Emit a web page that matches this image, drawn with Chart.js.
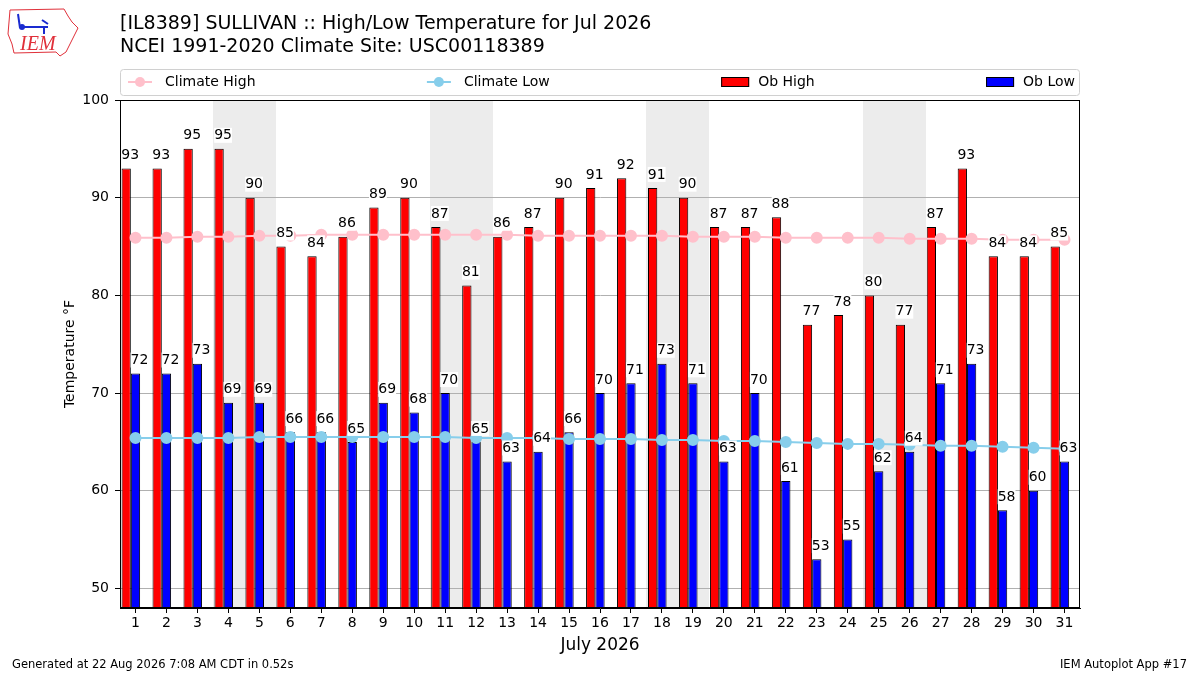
<!DOCTYPE html>
<html>
<head>
<meta charset="utf-8">
<title>[IL8389] SULLIVAN High/Low Temperature</title>
<script src="https://cdn.jsdelivr.net/npm/chart.js@4.4.1/dist/chart.umd.min.js"></script>
<style>
  html, body { margin: 0; padding: 0; background: #fff; }
  #wrap { width: 1200px; height: 675px; }
</style>
</head>
<body>
<div id="wrap"><canvas id="c" width="1200" height="675"></canvas></div>
<script>
// donnees
const dayLabels = ['1','2','3','4','5','6','7','8','9','10','11','12','13','14','15','16',
  '17','18','19','20','21','22','23','24','25','26','27','28','29','30','31'];
const obHigh = [93,93,95,95,90,85,84,86,89,90,87,81,86,87,90,91,92,91,90,87,87,88,77,78,80,77,87,93,84,84,85];
const obLow = [72,72,73,69,69,66,66,65,69,68,70,65,63,64,66,70,71,73,71,63,70,61,53,55,62,64,71,73,58,60,63];
const climateHigh = [85.9,85.9,86.0,86.0,86.1,86.1,86.2,86.2,86.2,86.2,86.2,86.2,86.2,86.1,86.1,86.1,
  86.1,86.1,86.0,86.0,86.0,85.9,85.9,85.9,85.9,85.8,85.8,85.8,85.7,85.7,85.7];
const climateLow = [65.4,65.4,65.4,65.4,65.5,65.5,65.5,65.5,65.5,65.5,65.5,65.4,65.4,65.4,65.3,65.3,
  65.3,65.2,65.2,65.1,65.1,65.0,64.9,64.8,64.8,64.7,64.6,64.6,64.5,64.4,64.3];
const weekendDays = ['4','5','11','12','18','19','25','26'];
const yTicks = [50,60,70,80,90,100];

const FONT = "'DejaVu Sans', sans-serif";

// fond + bandes grises des week-ends (avant la grille)
const weekendShade = {
  id: 'weekendShade',
  beforeDraw(chart) {
    const { ctx, chartArea: a, scales: { x } } = chart;
    const step = x.getPixelForValue(1) - x.getPixelForValue(0);
    ctx.save();
    ctx.fillStyle = '#ffffff';
    ctx.fillRect(0, 0, chart.width, chart.height);
    ctx.fillStyle = '#ececec';
    weekendDays.forEach(d => {
      const cx = x.getPixelForValue(dayLabels.indexOf(d));
      const x0 = Math.round(cx - step / 2), x1 = Math.round(cx + step / 2);
      ctx.fillRect(x0, a.top, x1 - x0 + 1, a.bottom - a.top);
    });
    ctx.restore();
  }
};

// valeurs au-dessus des barres
const barLabels = {
  id: 'barLabels',
  afterDatasetsDraw(chart) {
    const ctx = chart.ctx;
    ctx.save();
    ctx.font = '14px ' + FONT;
    ctx.textAlign = 'center';
    ctx.textBaseline = 'middle';
    [0, 1].forEach(di => {
      const vals = chart.data.datasets[di].data;
      chart.getDatasetMeta(di).data.forEach((bar, i) => {
        const txt = String(vals[i]);
        const w = ctx.measureText(txt).width;
        const tx = bar.x + 4, ty = bar.y - 13;
        ctx.fillStyle = '#fff';
        ctx.fillRect(tx - w / 2, ty - 8, w, 15);
        ctx.fillStyle = '#000';
        ctx.fillText(txt, tx, ty);
      });
    });
    ctx.restore();
  }
};

// titre, legende, cadre, pied de page, logo
const decorations = {
  id: 'decorations',
  afterDraw(chart) {
    const { ctx, chartArea: a } = chart;
    ctx.save();

    // cadre
    ctx.strokeStyle = '#000';
    ctx.lineWidth = 1;
    ctx.strokeRect(a.left + 0.5, a.top + 0.5, a.right - a.left - 1, a.bottom - a.top - 1);

    // titre
    ctx.fillStyle = '#000';
    ctx.font = '19px ' + FONT;
    ctx.textAlign = 'left';
    ctx.textBaseline = 'middle';
    ctx.fillText('[IL8389] SULLIVAN :: High/Low Temperature for Jul 2026', a.left, 24);
    ctx.fillText('NCEI 1991-2020 Climate Site: USC00118389', a.left, 47);

    // legende
    const ly0 = 69, ly1 = 95, lyc = 82;
    ctx.fillStyle = '#fff';
    ctx.strokeStyle = '#d0d0d0';
    ctx.beginPath();
    ctx.roundRect(a.left + 0.5, ly0 + 0.5, a.right - a.left - 1, ly1 - ly0, 3);
    ctx.fill();
    ctx.stroke();
    ctx.font = '14px ' + FONT;
    const ds = chart.data.datasets;
    const items = [ds[2], ds[3], ds[0], ds[1]];
    const widths = items.map(d => 37 + ctx.measureText(d.label).width);
    const inner0 = a.left + 8, inner1 = a.right - 5;
    const gap = (inner1 - inner0 - widths.reduce((s, w) => s + w, 0)) / (items.length - 1);
    let x = inner0;
    items.forEach((d, i) => {
      if (d.type === 'line') {
        ctx.strokeStyle = d.borderColor;
        ctx.lineWidth = 2;
        ctx.beginPath();
        ctx.moveTo(x, lyc); ctx.lineTo(x + 24, lyc);
        ctx.stroke();
        ctx.fillStyle = d.pointBackgroundColor;
        ctx.beginPath();
        ctx.arc(x + 12, lyc, 5, 0, Math.PI * 2);
        ctx.fill();
      } else {
        ctx.fillStyle = d.backgroundColor;
        ctx.fillRect(x, lyc - 5, 28, 10);
        ctx.strokeStyle = '#000';
        ctx.lineWidth = 1;
        ctx.strokeRect(x + 0.5, lyc - 4.5, 27, 9);
      }
      ctx.fillStyle = '#000';
      ctx.fillText(d.label, x + 37, lyc);
      x += widths[i] + gap;
    });

    // pied de page
    ctx.font = '11.5px ' + FONT;
    ctx.fillText('Generated at 22 Aug 2026 7:08 AM CDT in 0.52s', 12, 665);
    ctx.textAlign = 'right';
    ctx.fillText('IEM Autoplot App #17', 1187, 665);

    // logo IEM (simplifie)
    ctx.strokeStyle = '#e0303a';
    ctx.lineWidth = 1;
    ctx.beginPath();
    ctx.moveTo(10, 10); ctx.lineTo(64, 9); ctx.lineTo(68, 16); ctx.lineTo(72, 22);
    ctx.lineTo(78, 28); ctx.lineTo(74, 36); ctx.lineTo(70, 44); ctx.lineTo(66, 52);
    ctx.lineTo(60, 56); ctx.lineTo(56, 52); ctx.lineTo(14, 53); ctx.lineTo(12, 44);
    ctx.lineTo(8, 34); ctx.lineTo(9, 22); ctx.closePath();
    ctx.stroke();
    ctx.strokeStyle = '#1a2bd0';
    ctx.lineWidth = 2;
    ctx.beginPath();
    ctx.moveTo(22, 27); ctx.lineTo(48, 27);
    ctx.moveTo(18, 14); ctx.lineTo(20, 28);
    ctx.moveTo(42, 20); ctx.lineTo(48, 24);
    ctx.moveTo(44, 27); ctx.lineTo(44, 34);
    ctx.stroke();
    ctx.fillStyle = '#1a2bd0';
    ctx.beginPath(); ctx.arc(22, 27, 3, 0, Math.PI * 2); ctx.fill();
    ctx.fillStyle = '#e0303a';
    ctx.font = 'italic 20px "Liberation Serif", serif';
    ctx.textAlign = 'left';
    ctx.fillText('IEM', 20, 45);

    ctx.restore();
  }
};

const tickFont = { family: FONT, size: 14 };

new Chart(document.getElementById('c'), {
  data: {
    labels: dayLabels,
    datasets: [
      { type: 'bar', label: 'Ob High', data: obHigh, backgroundColor: '#ff0000',
        borderColor: '#000', borderWidth: 1, borderSkipped: 'bottom', order: 1 },
      { type: 'bar', label: 'Ob Low', data: obLow, backgroundColor: '#0000ff',
        borderColor: '#000', borderWidth: 1, borderSkipped: 'bottom', order: 1 },
      { type: 'line', label: 'Climate High', data: climateHigh, borderColor: '#ffc0cb',
        backgroundColor: '#ffc0cb', pointBackgroundColor: '#ffc0cb', pointBorderColor: '#ffc0cb',
        borderWidth: 2, pointRadius: 5, order: 0 },
      { type: 'line', label: 'Climate Low', data: climateLow, borderColor: '#87ceeb',
        backgroundColor: '#87ceeb', pointBackgroundColor: '#87ceeb', pointBorderColor: '#87ceeb',
        borderWidth: 2, pointRadius: 5, order: 0 },
      // emplacement vide : decale la paire de barres a gauche du tick, comme l'original
      { type: 'bar', label: '', data: dayLabels.map(() => null), order: 1 }
    ]
  },
  options: {
    responsive: false,
    devicePixelRatio: 1,
    animation: false,
    layout: { padding: { top: 100, right: 120, bottom: 17, left: 62 } },
    datasets: { bar: { categoryPercentage: 0.9, barPercentage: 1.0 } },
    plugins: { legend: { display: false }, tooltip: { enabled: false }, title: { display: false } },
    scales: {
      x: {
        offset: true,
        afterFit: s => { s.height = 50; },
        grid: { offset: false, drawOnChartArea: false, tickColor: '#000', tickLength: 5 },
        border: { color: '#000' },
        ticks: { color: '#000', font: tickFont, padding: 2, maxRotation: 0, autoSkip: false },
        title: { display: true, text: 'July 2026', color: '#000',
          font: { family: FONT, size: 17 }, padding: { top: 0, bottom: 2 } }
      },
      y: {
        min: 48, max: 100,
        afterBuildTicks: s => { s.ticks = yTicks.map(v => ({ value: v })); },
        afterFit: s => { s.width = 58; },
        grid: { color: '#b0b0b0', tickColor: '#000', tickLength: 5 },
        border: { color: '#000' },
        ticks: { color: '#000', font: tickFont, padding: 6 },
        title: { display: true, text: 'Temperature °F', color: '#000',
          font: { family: FONT, size: 14 }, padding: 0 }
      }
    }
  },
  plugins: [weekendShade, barLabels, decorations]
});
</script>
</body>
</html>
